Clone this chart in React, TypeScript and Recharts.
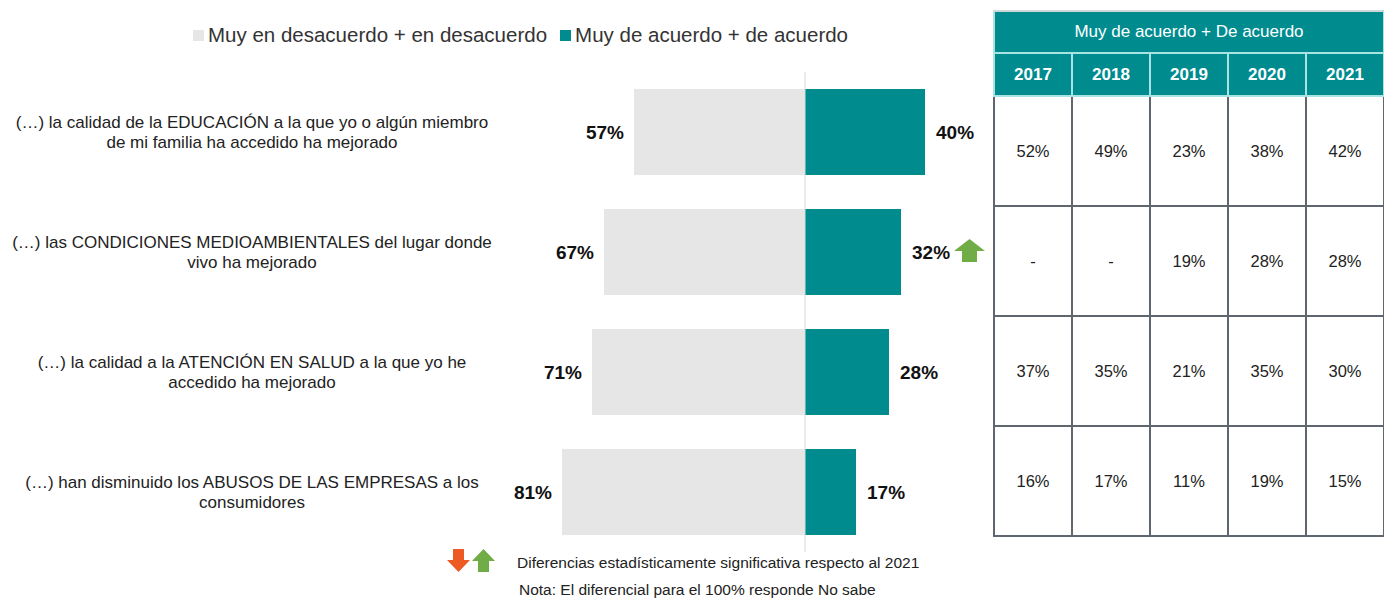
import { BarChart, Bar, XAxis, YAxis, ReferenceLine, LabelList } from "recharts";

const categories = [
  "(…) la calidad de la EDUCACIÓN a la que yo o algún miembro\nde mi familia ha accedido ha mejorado",
  "(…) las CONDICIONES MEDIOAMBIENTALES del lugar donde\nvivo ha mejorado",
  "(…) la calidad a la ATENCIÓN EN SALUD a la que yo he\naccedido ha mejorado",
  "(…) han disminuido los ABUSOS DE LAS EMPRESAS a los\nconsumidores",
];
const disagree = [57, 67, 71, 81];
const agree = [40, 32, 28, 17];
const significance = ["", "up", "", ""];

const years = ["2017", "2018", "2019", "2020", "2021"];
const historyEducacion = ["52%", "49%", "23%", "38%", "42%"];
const historyMedioambiente = ["-", "-", "19%", "28%", "28%"];
const historySalud = ["37%", "35%", "21%", "35%", "30%"];
const historyAbusos = ["16%", "17%", "11%", "19%", "15%"];
const historyRows = [historyEducacion, historyMedioambiente, historySalud, historyAbusos];

const TEAL = "#008C8F";
const GRAY = "#E7E6E6";
const GREEN = "#70AD47";
const RED = "#EE5A24";
const FONT = "'Liberation Sans', Arial, sans-serif";

const data = categories.map((name, i) => ({
  name,
  disagree: -disagree[i],
  agree: agree[i],
  sig: significance[i],
}));

const CategoryTick = ({ x, y, payload }: any) => {
  const lines = String(payload.value).split("\n");
  const start = -((lines.length - 1) * 20) / 2;
  return (
    <text x={x - 245} y={y} textAnchor="middle" fontSize={17} fill="#222" fontFamily={FONT}>
      {lines.map((l, i) => (
        <tspan key={i} x={x - 245} y={y + start + i * 20} dominantBaseline="central">
          {l}
        </tspan>
      ))}
    </text>
  );
};

const UpArrow = ({ x, y }: { x: number; y: number }) => (
  <polygon
    points={`${x},${y} ${x + 15.5},${y - 12} ${x + 31},${y} ${x + 23},${y} ${x + 23},${y + 11} ${x + 8},${y + 11} ${x + 8},${y}`}
    fill={GREEN}
  />
);

const DisagreeLabel = (props: any) => {
  const { x, y, width, height, value } = props;
  const left = Math.min(x, x + width);
  return (
    <text x={left - 10} y={y + height / 2} textAnchor="end" dominantBaseline="central" fontSize={19} fontWeight="bold" fill="#111" fontFamily={FONT}>
      {Math.abs(value)}%
    </text>
  );
};

const AgreeLabel = (props: any) => {
  const { x, y, width, height, value, index } = props;
  const right = Math.max(x, x + width);
  const cy = y + height / 2;
  return (
    <g>
      <text x={right + 11} y={cy} textAnchor="start" dominantBaseline="central" fontSize={19} fontWeight="bold" fill="#111" fontFamily={FONT}>
        {value}%
      </text>
      {data[index]?.sig === "up" && <UpArrow x={right + 53} y={cy - 1} />}
    </g>
  );
};

const Legend = () => (
  <div style={{ position: "absolute", left: 185, top: 15, display: "flex", alignItems: "center", fontSize: 20.5, color: "#333", fontFamily: FONT, whiteSpace: "nowrap" }}>
    <span style={{ width: 11, height: 11, background: GRAY, display: "inline-block", marginRight: 4 }} />
    <span>Muy en desacuerdo + en desacuerdo</span>
    <span style={{ width: 11, height: 11, background: TEAL, display: "inline-block", marginLeft: 13, marginRight: 4 }} />
    <span>Muy de acuerdo + de acuerdo</span>
  </div>
);

const cellBorder = "2px solid #5f6670";
const headBorder = "2px solid #a9e3e3";

const HistoryTable = () => (
  <table
    style={{
      position: "absolute",
      left: 985,
      top: 2,
      width: 392,
      height: 527,
      borderCollapse: "collapse",
      tableLayout: "fixed",
      fontFamily: FONT,
      textAlign: "center",
    }}
  >
    <tbody>
      <tr style={{ height: 42 }}>
        <td colSpan={5} style={{ background: TEAL, color: "#fff", fontSize: 17, border: headBorder, borderTop: "2px solid #cfd8d8" }}>
          Muy de acuerdo + De acuerdo
        </td>
      </tr>
      <tr style={{ height: 43 }}>
        {years.map((yr) => (
          <td key={yr} style={{ background: TEAL, color: "#fff", fontSize: 17, fontWeight: "bold", border: headBorder }}>
            {yr}
          </td>
        ))}
      </tr>
      {historyRows.map((row, r) => (
        <tr key={r} style={{ height: 110 }}>
          {row.map((v, c) => (
            <td key={c} style={{ border: cellBorder, fontSize: 16.5, color: "#222" }}>
              {v}
            </td>
          ))}
        </tr>
      ))}
    </tbody>
  </table>
);

const DownArrowIcon = ({ x, color }: { x: number; color: string }) => (
  <polygon points={`${x + 6},0 ${x + 17},0 ${x + 17},11 ${x + 23},11 ${x + 11.5},23 ${x},11 ${x + 6},11`} fill={color} />
);
const UpArrowIcon = ({ x, color }: { x: number; color: string }) => (
  <polygon points={`${x + 11.5},0 ${x + 23},12 ${x + 17},12 ${x + 17},23 ${x + 6},23 ${x + 6},12 ${x},12`} fill={color} />
);

const Footnote = () => (
  <>
    <svg style={{ position: "absolute", left: 439, top: 541 }} width={50} height={24}>
      <DownArrowIcon x={0} color={RED} />
      <UpArrowIcon x={25} color={GREEN} />
    </svg>
    <div style={{ position: "absolute", left: 509, top: 546, fontSize: 15.5, lineHeight: "18px", color: "#222", fontFamily: FONT, whiteSpace: "nowrap" }}>
      Diferencias estadísticamente significativa respecto al 2021
    </div>
    <div style={{ position: "absolute", left: 511, top: 573, fontSize: 15.5, lineHeight: "18px", color: "#222", fontFamily: FONT, whiteSpace: "nowrap" }}>
      Nota: El diferencial para el 100% responde No sabe
    </div>
  </>
);

export default function App() {
  return (
    <div style={{ position: "relative", width: 1376, height: 594, background: "#fff", fontFamily: FONT }}>
      <Legend />
      <div style={{ position: "absolute", left: 0, top: 60 }}>
        <BarChart
          width={977}
          height={488}
          data={data}
          layout="vertical"
          stackOffset="sign"
          barSize={86}
          margin={{ top: 4, right: 0, bottom: 4, left: 0 }}
        >
          <XAxis type="number" domain={[-100, 60]} hide />
          <YAxis
            type="category"
            dataKey="name"
            width={497}
            axisLine={false}
            tickLine={false}
            tick={<CategoryTick />}
          />
          <Bar dataKey="disagree" stackId="s" fill={GRAY} isAnimationActive={false}>
            <LabelList dataKey="disagree" content={<DisagreeLabel />} />
          </Bar>
          <Bar dataKey="agree" stackId="s" fill={TEAL} isAnimationActive={false}>
            <LabelList dataKey="agree" content={<AgreeLabel />} />
          </Bar>
          <ReferenceLine x={0} stroke="#d9d9d9" strokeWidth={1} ifOverflow="extendDomain" />
        </BarChart>
      </div>
      <HistoryTable />
      <Footnote />
    </div>
  );
}
